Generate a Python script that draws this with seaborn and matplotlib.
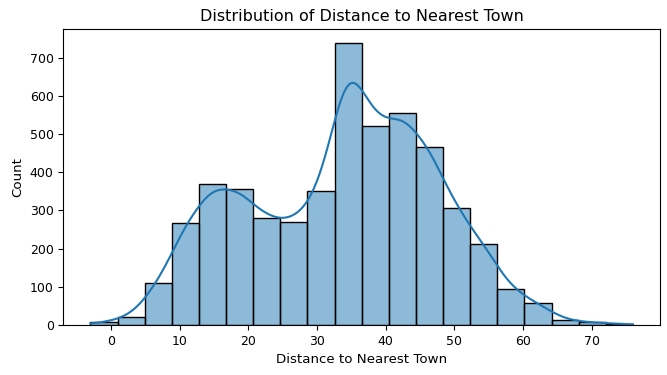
import numpy as np
import pandas as pd
import matplotlib
matplotlib.use("Agg")
import matplotlib.pyplot as plt
import seaborn as sns

# bin edges and counts
bin_start = -3.0
bin_end = 76.0
n_bins = 20
counts = [7, 22, 110, 266, 368, 355, 280, 270, 352, 737,
          520, 556, 465, 305, 213, 94, 57, 12, 7, 3]

edges = np.linspace(bin_start, bin_end, n_bins + 1)
centers = (edges[:-1] + edges[1:]) / 2
df = pd.DataFrame({"distance": centers, "count": counts})

# the weighted KDE uses the effective n, so rescale the bandwidth back to n=5000
w = np.array(counts, dtype=float)
n_eff = w.sum() ** 2 / (w ** 2).sum()
bw = 0.95 * (w.sum() / n_eff) ** -0.2

fig = plt.figure(figsize=(6.67, 3.75), dpi=100)
ax = fig.add_axes([0.095, 0.1333, 0.8945, 0.7885])
sns.histplot(data=df, x="distance", weights="count", bins=n_bins,
             binrange=(bin_start, bin_end), kde=True,
             kde_kws={"bw_adjust": bw, "cut": 2, "clip": (bin_start, bin_end)},
             edgecolor="black", linewidth=1, ax=ax)
pad = 0.05 * (bin_end - bin_start)
ax.set_xlim(bin_start - pad, bin_end + pad)
ax.set_title("Distribution of Distance to Nearest Town", fontsize=11.5)
ax.set_xlabel("Distance to Nearest Town", fontsize=9.6)
ax.set_ylabel("Count", fontsize=9.6)
ax.tick_params(labelsize=9)
fig.savefig("out.png", dpi=100)
